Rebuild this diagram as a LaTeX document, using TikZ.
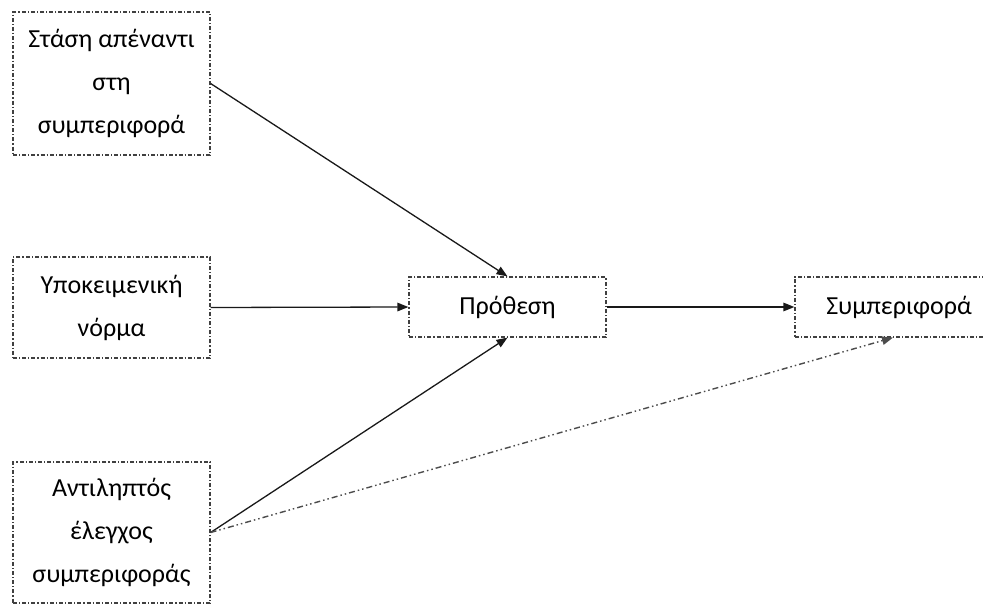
\documentclass[tikz,border=0pt]{standalone}
\usepackage{fontspec}
\setmainfont{Carlito}
\usetikzlibrary{arrows.meta,calc}
\begin{document}
\begin{tikzpicture}[x=1pt,y=-1pt,
  box/.style={draw=black!75, line width=1.2pt,
    dash pattern=on 4pt off 2pt on 1.2pt off 2pt,
    fill=white, align=center, inner sep=0pt,
    font=\fontsize{26}{43}\selectfont, text=black},
  link/.style={draw=black!90, line width=1.3pt,
    -{Triangle[length=11pt,width=8.5pt]}},
  dotlink/.style={link, draw=black!70, line width=1.4pt,
    dash pattern=on 6pt off 3pt on 1.5pt off 3pt on 1.5pt off 3pt}]
  \useasboundingbox (0,0) rectangle (983,605);
  \clip (0,0) rectangle (983,605);
  \fill[white] (0,0) rectangle (983,605);

  \node[box, minimum width=197pt, minimum height=143pt] (att) at (111.5,83.5)
    {Στάση απέναντι\\στη\\συμπεριφορά};
  \node[box, minimum width=197pt, minimum height=101pt] (norm) at (111.5,307.5)
    {Υποκειμενική\\νόρμα};
  \node[box, minimum width=197pt, minimum height=141pt] (ctrl) at (111.5,532.5)
    {Αντιληπτός\\έλεγχος\\συμπεριφοράς};
  \node[box, minimum width=197pt, minimum height=60pt] (int) at (507.5,307)
    {Πρόθεση};
  \node[box, minimum width=208pt, minimum height=60pt] (beh) at (899,307)
    {Συμπεριφορά};

  \coordinate (behin) at ($(beh.south)+(-6,0)$);

  \draw[link] (att.east) -- (int.north);
  \draw[link] (norm.east) -- (int.west);
  \draw[link] (ctrl.east) -- (int.south);
  \draw[link] (int.east) -- (beh.west);
  \draw[dotlink] (ctrl.east) -- (behin);
\end{tikzpicture}
\end{document}
